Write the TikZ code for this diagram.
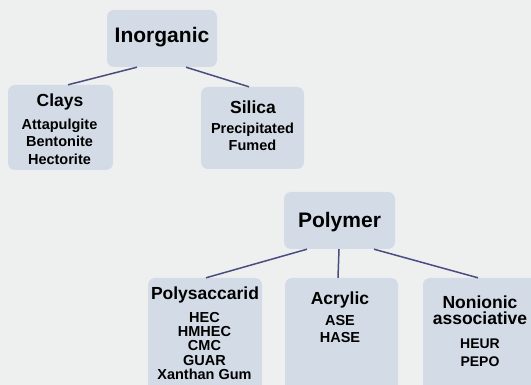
\documentclass[tikz,border=0pt]{standalone}
\usepackage{fontspec}
\setmainfont{Liberation Sans}
\usetikzlibrary{calc}
\definecolor{bgc}{RGB}{238,239,239}
\definecolor{boxc}{RGB}{211,220,230}
\definecolor{linec}{RGB}{74,77,128}
\begin{document}
\begin{tikzpicture}[x=1pt,y=-1pt,
  box/.style={fill=boxc,rounded corners=7pt,inner sep=0pt},
  conn/.style={draw=linec,line width=1.5pt},
  big/.style={font=\bfseries\fontsize{21}{24}\selectfont,inner sep=0pt},
  head/.style={font=\bfseries\fontsize{17.5}{16}\selectfont,inner sep=0pt,align=center},
  item/.style={font=\bfseries\fontsize{14.5}{17.5}\selectfont,inner sep=0pt,align=center},
  smallitem/.style={font=\bfseries\fontsize{14.5}{14.3}\selectfont,inner sep=0pt,align=center}]
\fill[bgc] (0,0) rectangle (531,385);
\useasboundingbox (0,0) rectangle (531,385);
% boxes
\node[box,minimum width=110pt,minimum height=57pt] (ino) at (162,38.5) {};
\node[box,minimum width=105pt,minimum height=85pt] (clays) at (60.5,127.5) {};
\node[box,minimum width=103pt,minimum height=82pt] (sil) at (252.5,128) {};
\node[box,minimum width=111pt,minimum height=57pt] (poly) at (339.5,220.5) {};
\node[box,minimum width=114pt,minimum height=117pt] (psac) at (205,336.5) {};
\node[box,minimum width=113pt,minimum height=117pt] (acr) at (341.5,336.5) {};
\node[box,minimum width=117pt,minimum height=117pt] (non) at (481.5,336.5) {};
% connectors
\draw[conn] ($(ino.south)+(-25,0)$) -- ($(clays.north)+(7.5,0)$);
\draw[conn] ($(ino.south)+(24,0)$) -- ($(sil.north)+(-3.5,0)$);
\draw[conn] ($(poly.south)+(-32.5,0)$) -- ($(psac.north)+(1,0)$);
\draw[conn] ($(poly.south)+(-0.5,0)$) -- ($(acr.north)+(-3.5,0)$);
\draw[conn] ($(poly.south)+(34.5,0)$) -- ($(non.north)+(-3.5,0)$);
% texts
\node[big] (tino) at (162,37) {Inorganic};
\node[head] (tclays) at (60,102) {Clays};
\node[item] (iclays) at (59.5,141.5) {Attapulgite\\Bentonite\\Hectorite};
\node[head] (tsil) at (253,107) {Silica};
\node[item] (isil) at (252.5,137) {Precipitated\\Fumed};
\node[big] (tpoly) at (339.5,222) {Polymer};
\node[head] (tpsac) at (205,295) {Polysaccarid};
\node[smallitem] (ipsac) at (204.5,346) {HEC\\HMHEC\\CMC\\GUAR\\Xanthan Gum};
\node[head] (tacr) at (340,300) {Acrylic};
\node[item,font=\bfseries\fontsize{14.5}{17}\selectfont] (iacr) at (340,329) {ASE\\HASE};
\node[head] (tnon) at (480,310) {Nonionic\\associative};
\node[item,font=\bfseries\fontsize{14}{18}\selectfont] (inon) at (480,353) {HEUR\\PEPO};
\end{tikzpicture}
\end{document}
